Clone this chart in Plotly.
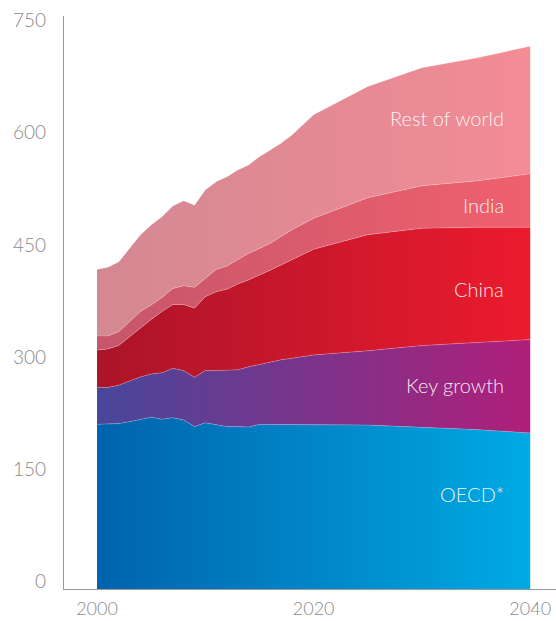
import plotly.graph_objects as go

years = [2000, 2001, 2002, 2003, 2004, 2005, 2006, 2007, 2008, 2009, 2010,
         2011, 2012, 2013, 2014, 2015, 2016, 2017, 2018, 2020, 2025, 2030, 2035, 2040]

oecd = [220.6, 220.6, 221.5, 224, 227, 230, 227.5, 229.5, 226.5, 217.5, 222.5,
        220, 217.5, 217.5, 217, 220.5, 220.5, 220.5, 220.5, 220.5, 219.5, 216.5, 213.5, 209]
key_growth = [49.4, 49.4, 51.5, 54.5, 57, 58, 62, 66, 66, 66, 70,
              72.5, 75, 76, 80.5, 80.5, 83.5, 86.5, 88.5, 93, 99.5, 109.5, 116.5, 125]
china = [50, 51.5, 53, 59.5, 65, 73, 82, 85.5, 88.5, 92.5, 99,
         105.5, 109, 115, 116.5, 119, 123, 127, 132, 141.5, 155.5, 157, 154.5, 150.5]
india = [19, 17.5, 18.5, 20, 22.5, 19.5, 19, 21.5, 25, 28, 24.5,
         30, 31, 33, 35.5, 36, 36, 38, 40, 41.5, 49.5, 57, 62, 71.5]
rest_of_world = [89, 92, 93.5, 98, 102.5, 107, 108, 110.5, 114, 110, 118.5,
                 117.5, 119.5, 119.5, 118.5, 123, 125, 125, 127, 138.5, 149, 158, 164.5, 171]

series_names = ["OECD*", "Key growth", "China", "India", "Rest of world"]
series_values = [oecd, key_growth, china, india, rest_of_world]
gradients = [
    ("#0062ad", "#00aae3"),
    ("#48479a", "#b01f7a"),
    ("#ab1429", "#ec1b2e"),
    ("#c6566a", "#f0606e"),
    ("#d38892", "#f38c95"),
]
label_pos = [(2037.8, 127), (2037.8, 273), (2037.8, 402), (2037.8, 514), (2037.8, 631)]

y_ticks = [0, 150, 300, 450, 600, 750]
x_ticks = [2000, 2020, 2040]

fig = go.Figure()
for name, vals, (c0, c1) in zip(series_names, series_values, gradients):
    fig.add_trace(go.Scatter(
        x=years, y=vals, name=name, stackgroup="one", mode="lines",
        line=dict(width=0.6, color="rgba(255,255,255,0.35)"),
        fillgradient=dict(type="horizontal", colorscale=[[0, c0], [1, c1]]),
        hoverinfo="x+y+name",
    ))

for name, (lx, ly) in zip(series_names, label_pos):
    fig.add_annotation(x=lx, y=ly, text=name, showarrow=False, xanchor="right",
                       yanchor="middle",
                       font=dict(family="Lato", size=20, color="rgba(255,255,255,0.92)", weight=300))

# y tick labels sit just above their value line
for t in y_ticks:
    fig.add_annotation(xref="paper", x=0, y=t, xanchor="right", yanchor="middle",
                       xshift=-16, yshift=9, text=str(t), showarrow=False,
                       font=dict(family="Lato", size=19, color="#8a8a8a", weight=300))

fig.update_layout(
    width=556, height=621, template="none",
    margin=dict(l=64, r=0, t=16, b=32),
    paper_bgcolor="white", plot_bgcolor="white",
    showlegend=False,
    font=dict(family="Lato", color="#8a8a8a", size=18),
    xaxis=dict(range=[1996.95, 2042.38], tickvals=x_ticks, showgrid=False, zeroline=False,
               showline=True, linecolor="#9a9a9a", linewidth=1, ticks="",
               tickfont=dict(family="Lato", size=18, color="#8a8a8a", weight=300),
               ticklabelstandoff=3, automargin=False),
    yaxis=dict(range=[0, 767.4], showticklabels=False, showgrid=False, zeroline=False,
               showline=True, linecolor="#9a9a9a", linewidth=1, ticks="",
               automargin=False),
)

fig.write_html("out.html")
